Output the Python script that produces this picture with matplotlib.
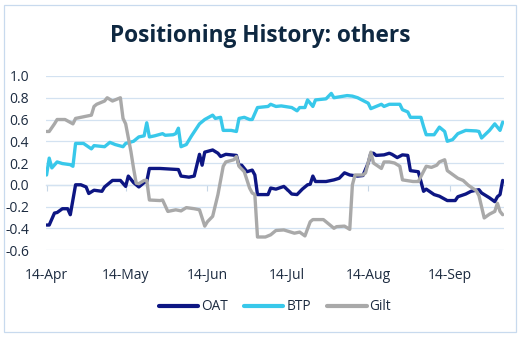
import numpy as np
import pandas as pd
import matplotlib
matplotlib.use("Agg")
import matplotlib.pyplot as plt
import matplotlib.dates as mdates
from matplotlib.patches import Rectangle

plt.rcParams["font.family"] = ["Open Sans", "DejaVu Sans"]

start = pd.Timestamp("2025-04-14")

# Net positioning by market, sampled at days since 14-Apr
oat_days = [0, 1, 3, 4, 6, 8, 9, 11, 13, 15, 16, 18, 21, 22, 23, 25, 28, 30, 31, 33, 35, 37, 38, 39, 43,
            50, 51, 54, 56, 58, 59, 60, 63, 65, 66, 68, 72, 73, 74, 76, 78, 79, 80, 84, 85,
            87, 90, 92, 93, 95, 97, 99, 100, 101, 102, 106, 109, 111, 113, 115, 118, 120, 122, 123,
            124, 125, 128, 130, 131, 133, 135, 137, 138, 141, 142, 143, 144, 147, 149, 152, 155,
            156, 159, 161, 164, 165, 168, 170, 171, 172, 173]
oat_vals = [-0.37, -0.37, -0.26, -0.255, -0.22, -0.22, -0.275, 0.0, 0.0, -0.02, -0.08, -0.05, -0.06, -0.02,
            0.0, 0.04, 0.04, -0.015, 0.08, 0.02, -0.02, 0.02, 0.03, 0.15, 0.15,
            0.14, 0.08, 0.07, 0.08, 0.28, 0.18, 0.30, 0.32, 0.29, 0.26, 0.28, 0.27, 0.18, 0.18, 0.12,
            0.135, 0.09, -0.09, -0.09, -0.03,
            -0.04, -0.015, -0.06, -0.085, -0.09, -0.04, 0.0, 0.005, 0.08, 0.03, 0.03, 0.045, 0.06, 0.11,
            0.09, 0.08, 0.085, 0.2, 0.29,
            0.29, 0.27, 0.275, 0.29, 0.28, 0.25, 0.275, 0.27, 0.13, 0.12, 0.03, -0.06, -0.04, -0.09,
            -0.105, -0.145, -0.145,
            -0.11, -0.085, -0.06, -0.045, -0.075, -0.12, -0.155, -0.11, -0.09, 0.04]

btp_days = [0, 1, 2, 4, 6, 9, 10, 11, 14, 17, 18, 22, 24, 26, 29, 30, 33, 35, 37, 38, 39, 41, 44, 45,
            48, 49, 50, 51, 53, 55, 58, 60, 63, 64, 66, 67, 70, 72, 73, 75, 77, 78, 80, 84, 85, 87,
            89, 93, 95, 96, 98, 99, 101, 102, 106, 108, 109, 114, 116, 118, 122, 123, 127, 128, 130,
            134, 135, 137, 138, 142, 143, 144, 147, 149, 151, 152, 154, 156, 159, 163, 164, 165,
            168, 170, 172, 173]
btp_vals = [0.09, 0.245, 0.155, 0.21, 0.195, 0.185, 0.17, 0.38, 0.38, 0.33, 0.36, 0.35, 0.39, 0.37, 0.35,
            0.38, 0.40, 0.44, 0.45, 0.57, 0.44, 0.45, 0.47, 0.455,
            0.46, 0.47, 0.52, 0.35, 0.37, 0.45, 0.56, 0.60, 0.64, 0.61, 0.62, 0.50, 0.50, 0.49, 0.61,
            0.62, 0.60, 0.60, 0.71, 0.72, 0.74, 0.72,
            0.725, 0.71, 0.68, 0.71, 0.71, 0.78, 0.72, 0.78, 0.79, 0.84, 0.80, 0.82, 0.815, 0.80, 0.75,
            0.70, 0.74, 0.72, 0.74,
            0.74, 0.69, 0.67, 0.62, 0.62, 0.535, 0.46, 0.46, 0.53, 0.49, 0.40, 0.415, 0.47, 0.50,
            0.495, 0.49, 0.43,
            0.50, 0.56, 0.50, 0.575]

gilt_days = [0, 1, 3, 4, 7, 10, 11, 14, 17, 18, 19, 22, 23, 25, 28, 29, 30, 32, 33, 34, 35, 37, 38,
             39, 43, 44, 46, 49, 51, 53, 56, 58, 60, 61, 63, 65, 66, 67, 68, 71, 72, 73, 75, 77,
             78, 79, 80, 83, 85, 87, 90, 92, 94, 96, 98, 100, 101, 105, 107, 109, 110, 113, 115,
             116, 117, 120, 121, 123, 124, 127, 128, 130, 132, 134, 135, 139, 141, 144, 146, 148,
             149, 151, 152, 156, 158, 160, 163, 164, 166, 168, 170, 171, 172, 173]
gilt_vals = [0.49, 0.49, 0.56, 0.60, 0.60, 0.56, 0.61, 0.625, 0.64, 0.72, 0.74, 0.77, 0.80, 0.77, 0.80,
             0.61, 0.56, 0.305, 0.15, 0.015, 0.01, 0.04, 0.04,
             -0.14, -0.145, -0.14, -0.245, -0.23, -0.24, -0.21, -0.22, -0.23, -0.38, -0.34, -0.29,
             -0.09, 0.04, 0.17, 0.21, 0.23, 0.26, 0.17, 0.12, -0.03,
             -0.075, -0.09, -0.48, -0.48, -0.46, -0.42, -0.415, -0.43, -0.445, -0.435, -0.47, -0.34,
             -0.32, -0.32, -0.36, -0.40, -0.385, -0.38, -0.41,
             0.0, 0.09, 0.09, 0.11, 0.30, 0.2, 0.15, 0.21, 0.21, 0.20, 0.17, 0.045, 0.03, 0.03, 0.17,
             0.16, 0.18,
             0.21, 0.23, 0.13, 0.06, 0.04, -0.005, -0.055, -0.10, -0.305, -0.27, -0.245, -0.17,
             -0.245, -0.275]

series = [("OAT", oat_days, oat_vals, "#0d1683"),
          ("BTP", btp_days, btp_vals, "#38c8ea"),
          ("Gilt", gilt_days, gilt_vals, "#a9a9a9")]

y_ticks = [-0.6, -0.4, -0.2, 0.0, 0.2, 0.4, 0.6, 0.8, 1.0]
x_tick_labels = ["14-Apr", "14-May", "14-Jun", "14-Jul", "14-Aug", "14-Sep"]
x_tick_dates = pd.to_datetime([f"{d}-2025" for d in x_tick_labels], format="%d-%b-%Y")

text_color = "#1c2b40"
grid_color = "#d3e2f1"

fig = plt.figure(figsize=(5.24, 3.37), dpi=100)
ax = fig.add_axes([0.0872, 0.258, 0.8746, 0.5165])

for name, days, vals, color in series:
    dates = start + pd.to_timedelta(days, unit="D")
    ax.plot(dates, vals, color=color, lw=2.4, label=name, solid_joinstyle="round",
            solid_capstyle="round", zorder=3)

ax.set_ylim(-0.6, 1.0)
ax.set_yticks(y_ticks)
ax.set_yticklabels([f"{v:.1f}" for v in y_ticks])
ax.set_xlim(start - pd.Timedelta(hours=8), start + pd.Timedelta(days=173.5))
ax.set_xticks(x_tick_dates)
ax.set_xticklabels(x_tick_labels)

ax.grid(axis="y", color=grid_color, lw=0.9, zorder=0)
for s in ax.spines.values():
    s.set_visible(False)
ax.tick_params(axis="both", length=0, colors=text_color, labelsize=10)
ax.tick_params(axis="y", pad=12)
ax.tick_params(axis="x", pad=13)

# horizontal axis line with month ticks drawn at zero
zero_frac = (0 - y_ticks[0]) / (y_ticks[-1] - y_ticks[0])
sec = ax.secondary_xaxis(zero_frac)
sec.set_xticks(x_tick_dates)
sec.set_xticklabels([])
sec.tick_params(axis="x", direction="out", length=4, color="#c6d6e6", width=0.8)
sec.spines["bottom"].set_color("#c6d6e6")
sec.spines["bottom"].set_linewidth(0.9)
for k in ("top", "left", "right"):
    sec.spines[k].set_visible(False)

fig.text(0.497, 0.893, "Positioning History: others", ha="center", va="center",
         fontsize=16.3, fontweight="bold", color="#0e2841")

leg = ax.legend(loc="center", bbox_to_anchor=(0.5, (1 - 307 / 337 - 0.258) / 0.5165),
                ncol=3, frameon=False, handlelength=2.9, handletextpad=0.2, columnspacing=1.2,
                fontsize=9.8)
for t in leg.get_texts():
    t.set_color(text_color)
for line in leg.get_lines():
    line.set_linewidth(3.0)

fig.patches.append(Rectangle((4 / 524, 1 - 332 / 337), 512 / 524, 327 / 337,
                             transform=fig.transFigure, fill=False, edgecolor="#c8daee", lw=0.9))

fig.savefig("out.png", dpi=100)
